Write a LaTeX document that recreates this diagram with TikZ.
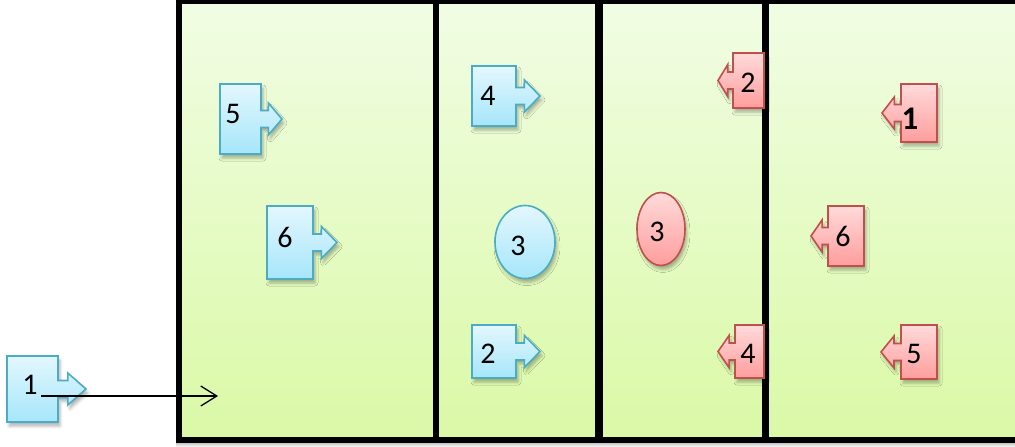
\documentclass[tikz,border=0pt]{standalone}
\usepackage{fontspec}
\setmainfont{Carlito}
\usetikzlibrary{shapes.geometric,arrows.meta,shadows.blur}
\definecolor{fieldtop}{HTML}{F1FDE4}
\definecolor{fieldbot}{HTML}{DAF9A6}
\definecolor{blueline}{HTML}{4BACC6}
\definecolor{bluetop}{HTML}{E3F7FE}
\definecolor{bluebot}{HTML}{A6E6FA}
\definecolor{redline}{HTML}{C0504D}
\definecolor{redtop}{HTML}{FFDADA}
\definecolor{redbot}{HTML}{FF9D9D}
\tikzset{
  shade/.style={blur shadow={shadow xshift=2pt, shadow yshift=-4pt, shadow blur radius=3pt, shadow opacity=30}},
  bluecall/.style={draw=blueline, line width=1.6pt, top color=bluetop, bottom color=bluebot, line join=miter, shade},
  redcall/.style={draw=redline, line width=1.6pt, top color=redtop, bottom color=redbot, line join=miter, shade},
  blueoval/.style={ellipse, draw=blueline, line width=1.6pt, top color=bluetop, bottom color=bluebot, shade, inner sep=0pt},
  redoval/.style={ellipse, draw=redline, line width=1.6pt, top color=redtop, bottom color=redbot, shade, inner sep=0pt},
  lbl/.style={font=\fontsize{30}{32}\selectfont, inner sep=0pt},
  wall/.style={draw=black, line width=6pt},
  conn/.style={line width=1.3pt, -{Straight Barb[length=16pt, width=20pt, line width=1.3pt]}},
}
\newcommand\bluecallout[9]{%
  \pgfmathsetmacro\cmid{(#3+#5)/2}%
  \pgfmathsetmacro\cneck{#4+0.35*(#6-#4)}%
  \draw[bluecall] (#2,#3) -- (#4,#3) -- (#4,\cmid-8.5) -- (\cneck,\cmid-8.5) -- (\cneck,\cmid-16) -- (#6,\cmid) -- (\cneck,\cmid+16) -- (\cneck,\cmid+8.5) -- (#4,\cmid+8.5) -- (#4,#5) -- (#2,#5) -- cycle;
  \node[lbl] (#1) at (#7,#8) {#9};
}
\newcommand\redcallout[9]{%
  \pgfmathsetmacro\cmid{(#3+#5)/2}%
  \pgfmathsetmacro\cneck{#2-0.35*(#2-#6)}%
  \draw[redcall] (#4,#3) -- (#2,#3) -- (#2,\cmid-8.5) -- (\cneck,\cmid-8.5) -- (\cneck,\cmid-16) -- (#6,\cmid) -- (\cneck,\cmid+16) -- (\cneck,\cmid+8.5) -- (#2,\cmid+8.5) -- (#2,#5) -- (#4,#5) -- cycle;
  \node[lbl] (#1) at (#7,#8) {#9};
}
\begin{document}
\begin{tikzpicture}[x=1pt,y=-1pt]
\useasboundingbox (0,0) rectangle (1015,447);
% field
\fill[top color=gray!55, bottom color=white] (176,442) rectangle (1015,447);
\fill[top color=fieldtop, bottom color=fieldbot] (178.5,1) rectangle (1030,440);
\draw[wall] (178.5,1) rectangle (1030,440);
\draw[wall, line width=6pt] (435.5,1) -- (435.5,440);
\draw[wall, line width=7.5pt] (599,1) -- (599,440);
\draw[wall, line width=7.5pt] (765.5,1) -- (765.5,440);
% blue team
\bluecallout{b5}{220}{84}{261}{154}{282}{233}{114}{5}
\bluecallout{b6}{267}{206}{313}{279}{337}{285}{237}{6}
\bluecallout{b4}{472}{66}{516}{126}{540}{488}{96}{4}
\bluecallout{b2}{472}{325}{516}{378}{540}{488}{354}{2}
\node[blueoval, minimum width=60pt, minimum height=73pt] (b3) at (525,242) {};
\node[lbl] (b3l) at (518,246) {3};
% red team
\redcallout{r2}{733}{53}{764}{108}{718}{748}{83}{2}
\redcallout{r1}{901}{84}{937}{142}{882}{910}{119}{\fontsize{33}{35}\selectfont\bfseries 1}
\redcallout{r6}{828}{206}{864}{266}{811}{843}{236}{6}
\redcallout{r4}{735}{325}{764}{378}{718}{748}{354}{4}
\redcallout{r5}{901}{325}{937}{379}{881}{914}{354}{5}
\node[redoval, minimum width=48pt, minimum height=73pt] (r3) at (661,229) {};
\node[lbl] (r3l) at (657,232) {3};
% player 1 outside
\bluecallout{b1}{7}{356}{58}{422}{86}{30}{385}{1}
\coordinate (s) at (41,396);
\coordinate (e) at (218,396);
\draw[conn] (s) -- (e);
\end{tikzpicture}
\end{document}
